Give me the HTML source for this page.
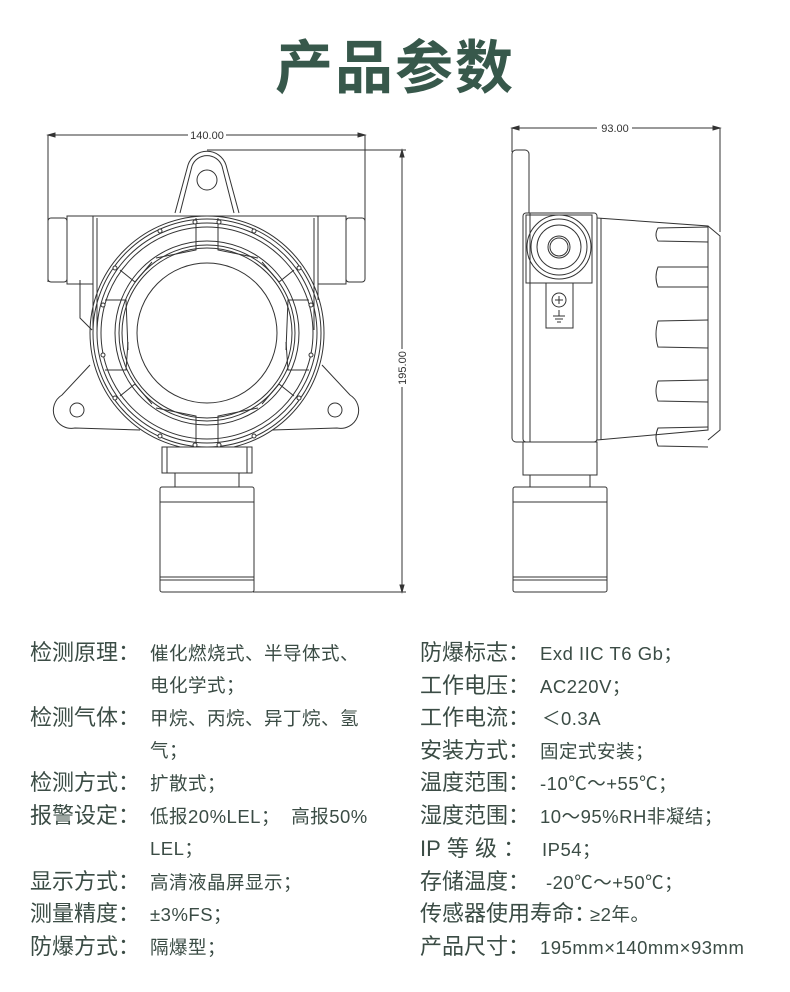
<!DOCTYPE html>
<html><head><meta charset="utf-8"><style>
body{margin:0;width:790px;height:992px;background:#fff;position:relative;overflow:hidden;font-family:"Liberation Sans","Noto Sans CJK SC",sans-serif;color:#3b4c45}
h1{position:absolute;left:0;width:790px;top:28px;margin:0;text-align:center;font-size:58px;font-weight:bold;color:#37584b;letter-spacing:2px;line-height:70px;font-family:"Noto Sans CJK SC",sans-serif}
.r{position:absolute;white-space:nowrap;line-height:30px;height:30px}
.l{font-size:22px}
.v{font-size:18.5px;letter-spacing:0.5px}
svg{position:absolute;left:0;top:0}
</style></head><body>
<h1>产品参数</h1>
<svg width="790" height="620" viewBox="0 0 790 620" fill="none" stroke="#333" stroke-width="1">
<line x1="48" y1="135" x2="365" y2="135"/><polygon points="48,135 55,133 55,137" fill="#333"/><polygon points="365,135 358,133 358,137" fill="#333"/>
<rect x="188" y="128" width="38" height="13" fill="#fff" stroke="none"/>
<text x="207" y="139" font-size="11" fill="#333" stroke="none" text-anchor="middle" font-family="Liberation Sans">140.00</text>
<line x1="48" y1="135" x2="48" y2="282"/><line x1="365" y1="135" x2="365" y2="222"/>
<line x1="207" y1="150" x2="406" y2="150"/><line x1="253" y1="592" x2="406" y2="592"/>
<line x1="402" y1="150" x2="402" y2="592"/><polygon points="402,150 400,157 404,157" fill="#333"/><polygon points="402,592 400,585 404,585" fill="#333"/>
<rect x="396" y="349" width="12" height="38" fill="#fff" stroke="none"/>
<text x="0" y="0" font-size="11" fill="#333" stroke="none" text-anchor="middle" font-family="Liberation Sans" transform="translate(406,368) rotate(-90)">195.00</text>
<path d="M175,213 L188,165 A20,20 0 0 1 226,165 L239,213"/><path d="M180,213 L192,166 A16,16 0 0 1 222,166 L234,213"/>
<circle cx="207" cy="180" r="10"/>
<rect x="48" y="218" width="19" height="64" rx="3"/><rect x="67" y="216" width="26" height="68"/>
<rect x="346" y="218" width="19" height="64" rx="3"/><rect x="318" y="216" width="28" height="68"/>
<path d="M93,216 L318,216 L318,300"/><line x1="93" y1="216" x2="93" y2="330"/><line x1="97" y1="218" x2="97" y2="330"/>
<line x1="314" y1="218" x2="314" y2="330"/>
<path d="M80,280 L80,318 L92,330"/>
<path d="M90,365 L62,395 A18,18 0 0 0 75,428 L140,430"/>
<path d="M322,365 L350,395 A18,18 0 0 1 337,428 L272,430"/>
<circle cx="77" cy="410" r="7"/><circle cx="335" cy="410" r="7"/>
<circle cx="207" cy="333" r="117"/><circle cx="207" cy="333" r="114"/><circle cx="207" cy="333" r="110"/><circle cx="207" cy="333" r="106"/>
<circle cx="207" cy="333" r="92"/><circle cx="207" cy="333" r="88"/><circle cx="207" cy="333" r="85"/><circle cx="207" cy="333" r="70"/>
<g stroke="#333">
<path d="M196,218 L196,250 L156,258"/><path d="M218,218 L218,250 L258,258"/>
<path d="M196,448 L196,416 L156,408"/><path d="M218,448 L218,416 L258,408"/>
<path d="M120,270 L135,282 L152,262"/><path d="M294,270 L279,282 L262,262"/>
<path d="M120,396 L135,384 L152,404"/><path d="M294,396 L279,384 L262,404"/>
<path d="M105,300 L126,300 L128,350"/><path d="M309,300 L288,300 L286,350"/>
<path d="M105,370 L126,370 L128,342"/><path d="M309,370 L288,370 L286,342"/>
</g>
<g fill="#fff"><circle cx="195" cy="222" r="2"/><circle cx="219" cy="222" r="2"/><circle cx="160" cy="231" r="2"/><circle cx="254" cy="231" r="2"/><circle cx="115" cy="268" r="2"/><circle cx="299" cy="268" r="2"/><circle cx="103" cy="305" r="2"/><circle cx="311" cy="305" r="2"/><circle cx="103" cy="355" r="2"/><circle cx="311" cy="355" r="2"/><circle cx="115" cy="398" r="2"/><circle cx="299" cy="398" r="2"/><circle cx="160" cy="436" r="2"/><circle cx="254" cy="436" r="2"/><circle cx="195" cy="445" r="2"/><circle cx="219" cy="445" r="2"/></g>
<rect x="162" y="447" width="90" height="26" fill="#fff"/><line x1="167" y1="447" x2="167" y2="473"/><line x1="247" y1="447" x2="247" y2="473"/>
<rect x="175" y="473" width="64" height="14"/>
<rect x="160" y="487" width="94" height="105" rx="2"/><line x1="160" y1="502" x2="254" y2="502"/><line x1="160" y1="577" x2="254" y2="577"/><line x1="160" y1="580" x2="254" y2="580"/>
<line x1="512" y1="128" x2="720" y2="128"/><polygon points="512,128 519,126 519,130" fill="#333"/><polygon points="720,128 713,126 713,130" fill="#333"/>
<rect x="597" y="121" width="35" height="13" fill="#fff" stroke="none"/>
<text x="615" y="132" font-size="11" fill="#333" stroke="none" text-anchor="middle" font-family="Liberation Sans">93.00</text>
<line x1="512" y1="128" x2="512" y2="152"/><line x1="720" y1="128" x2="720" y2="232"/>
<rect x="512" y="150" width="17" height="292" rx="4"/>
<rect x="523" y="213" width="74" height="229" rx="3" fill="#fff"/><line x1="530" y1="213" x2="530" y2="442"/>
<path d="M597,218 L708,226 L708,430 L597,440"/><line x1="601" y1="218" x2="601" y2="440"/>
<path d="M708,226 L720,236 L720,430 L708,440"/>
<g><path d="M708,227 L658,228 Q654,235 658,241 L708,242"/><path d="M708,267 L658,267 Q654,277 658,287 L708,287"/><path d="M708,320 L658,321 Q654,334 658,347 L708,348"/><path d="M708,380 L658,381 Q654,391 658,401 L708,402"/><path d="M708,427 L658,428 Q654,437 658,446 L708,447"/></g>
<rect x="526" y="215" width="66" height="68"/>
<circle cx="559" cy="247" r="32"/><circle cx="559" cy="247" r="28"/><circle cx="559" cy="247" r="22"/><circle cx="559" cy="247" r="11"/><circle cx="559" cy="247" r="9"/>
<rect x="546" y="283" width="27" height="45"/><circle cx="559" cy="300" r="7"/><path d="M555,300h8M559,296v8"/>
<path d="M553,316h12M555,319h8M557,322h4M559,310v6"/>
<rect x="523" y="442" width="74" height="33"/><rect x="530" y="475" width="60" height="12"/>
<rect x="513" y="487" width="94" height="105" rx="2"/><line x1="513" y1="502" x2="607" y2="502"/><line x1="513" y1="577" x2="607" y2="577"/><line x1="513" y1="580" x2="607" y2="580"/>
</svg>

<div class="r l" style="left:30px;top:638px">检测原理：</div><div class="r v" style="left:150px;top:639px">催化燃烧式、半导体式、</div>
<div class="r v" style="left:150px;top:671px">电化学式；</div>
<div class="r l" style="left:30px;top:703px">检测气体：</div><div class="r v" style="left:150px;top:704px">甲烷、丙烷、异丁烷、氢</div>
<div class="r v" style="left:150px;top:736px">气；</div>
<div class="r l" style="left:30px;top:768px">检测方式：</div><div class="r v" style="left:150px;top:769px">扩散式；</div>
<div class="r l" style="left:30px;top:801px">报警设定：</div><div class="r v" style="left:150px;top:802px">低报20%LEL；&nbsp;&nbsp;高报50%</div>
<div class="r v" style="left:150px;top:834px">LEL；</div>
<div class="r l" style="left:30px;top:867px">显示方式：</div><div class="r v" style="left:150px;top:868px">高清液晶屏显示；</div>
<div class="r l" style="left:30px;top:899px">测量精度：</div><div class="r v" style="left:150px;top:900px">±3%FS；</div>
<div class="r l" style="left:30px;top:932px">防爆方式：</div><div class="r v" style="left:150px;top:933px">隔爆型；</div>

<div class="r l" style="left:420px;top:638px">防爆标志：</div><div class="r v" style="left:540px;top:639px">Exd IIC T6 Gb；</div>
<div class="r l" style="left:420px;top:671px">工作电压：</div><div class="r v" style="left:540px;top:672px">AC220V；</div>
<div class="r l" style="left:420px;top:703px">工作电流：</div><div class="r v" style="left:542px;top:704px">＜0.3A</div>
<div class="r l" style="left:420px;top:736px">安装方式：</div><div class="r v" style="left:540px;top:737px">固定式安装；</div>
<div class="r l" style="left:420px;top:768px">温度范围：</div><div class="r v" style="left:540px;top:769px">-10℃～+55℃；</div>
<div class="r l" style="left:420px;top:801px">湿度范围：</div><div class="r v" style="left:540px;top:802px">10～95%RH非凝结；</div>
<div class="r l" style="left:420px;top:834px">IP&nbsp;等&nbsp;级&nbsp;：</div><div class="r v" style="left:542px;top:835px">IP54；</div>
<div class="r l" style="left:420px;top:867px">存储温度：</div><div class="r v" style="left:546px;top:868px">-20℃～+50℃；</div>
<div class="r l" style="left:420px;top:899px">传感器使用寿命：</div><div class="r v" style="left:590px;top:900px">≥2年。</div>
<div class="r l" style="left:420px;top:932px">产品尺寸：</div><div class="r v" style="left:540px;top:933px">195mm×140mm×93mm</div>
</body></html>
